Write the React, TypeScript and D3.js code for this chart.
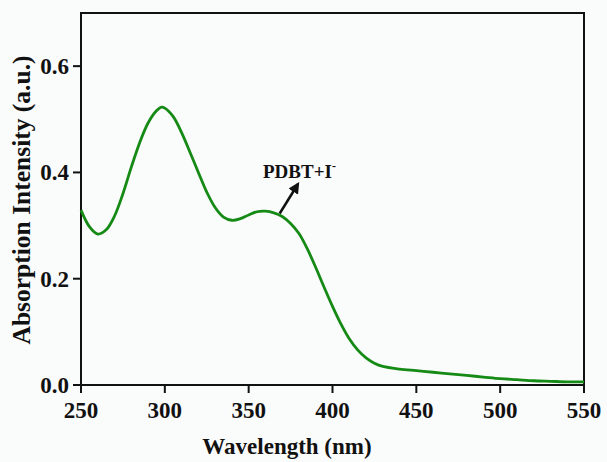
import React from "react";
import * as d3 from "d3";

// Absorption spectrum of PDBT + I⁻
const wavelengths = [
  250, 255, 260, 265, 270, 275, 280, 285, 290, 295, 298, 300, 305, 310, 315, 320,
  325, 330, 335, 340, 345, 350, 355, 360, 365, 370, 375, 380, 385, 390, 395, 400,
  405, 410, 415, 420, 425, 430, 440, 450, 460, 470, 480, 490, 500, 510, 520, 530,
  540, 550,
];
const absorbance = [
  0.329, 0.298, 0.284, 0.292, 0.318, 0.36, 0.41, 0.456, 0.493, 0.516, 0.523, 0.521,
  0.505, 0.475, 0.438, 0.4, 0.363, 0.334, 0.316, 0.31, 0.313, 0.32, 0.326, 0.327,
  0.324, 0.317, 0.304, 0.285, 0.256, 0.221, 0.184, 0.148, 0.115, 0.087, 0.066, 0.051,
  0.041, 0.035, 0.03, 0.027, 0.024, 0.021, 0.018, 0.015, 0.012, 0.01, 0.008, 0.007,
  0.006, 0.006,
];
const xTicks = [250, 300, 350, 400, 450, 500, 550];
const yTicks = [0.0, 0.2, 0.4, 0.6];
const seriesLabel = "PDBT+I";
const xTitle = "Wavelength (nm)";
const yTitle = "Absorption Intensity (a.u.)";

const W = 607;
const H = 462;
const M = { left: 81, right: 584, top: 13, bottom: 385 };
const FONT = "'Liberation Serif', 'Times New Roman', serif";
const INK = "#111";
const GREEN = "#158a15";

export default function App() {
  const x = d3.scaleLinear().domain([250, 550]).range([M.left, M.right]);
  const y = d3.scaleLinear().domain([0, 0.7]).range([M.bottom, M.top]);
  const pts: [number, number][] = wavelengths.map((w, i) => [w, absorbance[i]]);
  const line = d3
    .line<[number, number]>()
    .x((d) => x(d[0]))
    .y((d) => y(d[1]))
    .curve(d3.curveCatmullRom.alpha(0.5));

  // arrow pointing from the shoulder towards the label
  const ax0 = x(368.5);
  const ay0 = y(0.319) - 2;
  const ax1 = 298;
  const ay1 = 184;

  return (
    <svg
      width={W}
      height={H}
      style={{ position: "absolute", left: 0, top: 0, background: "#fafbfb" }}
      fontFamily={FONT}
      fontWeight="bold"
    >
      <defs>
        <marker
          id="head"
          viewBox="0 0 10 10"
          refX="8"
          refY="5"
          markerWidth="4.5"
          markerHeight="4.5"
          orient="auto"
        >
          <path d="M0,0 L10,5 L0,10 z" fill={INK} />
        </marker>
      </defs>
      <rect x={0} y={0} width={W} height={H} fill="#fafbfb" />

      {/* frame */}
      <rect
        x={M.left}
        y={M.top}
        width={M.right - M.left}
        height={M.bottom - M.top}
        fill="none"
        stroke={INK}
        strokeWidth={2}
      />

      {/* x axis ticks */}
      {xTicks.map((t) => (
        <g key={t}>
          <line x1={x(t)} x2={x(t)} y1={M.bottom} y2={M.bottom + 8} stroke={INK} strokeWidth={2} />
          <text x={x(t)} y={418} textAnchor="middle" fontSize={23} fill={INK}>
            {t}
          </text>
        </g>
      ))}

      {/* y axis ticks */}
      {yTicks.map((t) => (
        <g key={t}>
          <line x1={M.left - 8} x2={M.left} y1={y(t)} y2={y(t)} stroke={INK} strokeWidth={2} />
          <text x={69} y={y(t) + 8} textAnchor="end" fontSize={23} fill={INK}>
            {t.toFixed(1)}
          </text>
        </g>
      ))}

      <text x={287} y={454} textAnchor="middle" fontSize={23} fill={INK}>
        {xTitle}
      </text>
      <text
        transform={`translate(30, 200) rotate(-90)`}
        textAnchor="middle"
        fontSize={25.5}
        fill={INK}
      >
        {yTitle}
      </text>

      {/* spectrum */}
      <path d={line(pts) ?? ""} fill="none" stroke={GREEN} strokeWidth={2.8} strokeLinejoin="round" />

      {/* annotation */}
      <line
        x1={ax0}
        y1={ay0}
        x2={ax1}
        y2={ay1}
        stroke={INK}
        strokeWidth={2.5}
        markerEnd="url(#head)"
      />
      <text x={263} y={178} fontSize={19} fill={INK}>
        {seriesLabel}
        <tspan dy={-8} fontSize={12}>
          -
        </tspan>
      </text>
    </svg>
  );
}
